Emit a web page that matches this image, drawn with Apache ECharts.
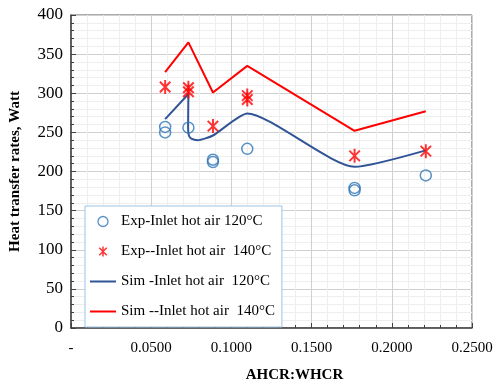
<!DOCTYPE html>
<html>
<head>
<meta charset="utf-8">
<script src="https://cdn.jsdelivr.net/npm/echarts@6/dist/echarts.min.js"></script>
<style>
  html, body { margin: 0; padding: 0; background: #fff; }
  #chart { width: 497px; height: 388px; }
</style>
</head>
<body>
<div id="chart"></div>
<script>
// values
var seriesNames = ['Exp-Inlet hot air 120°C', 'Exp--Inlet hot air  140°C', 'Sim -Inlet hot air  120°C', 'Sim --Inlet hot air  140°C']
var exp120X = [0.0587, 0.0587, 0.0732, 0.0885, 0.0885, 0.1099, 0.1768, 0.1768, 0.2212]
var exp120Y = [257, 250, 256, 215, 212, 229, 179, 176, 195]
var exp140X = [0.0587, 0.0732, 0.0732, 0.0885, 0.1099, 0.1099, 0.1768, 0.2212]
var exp140Y = [308, 307, 302, 258, 297, 292, 220, 226]
var sim120X = [0.0587, 0.0732, 0.0730, 0.0735, 0.0750, 0.0790, 0.0885, 0.1099, 0.1768, 0.2212]
var sim120Y = [267, 299, 256, 246, 242, 240, 246, 274, 206, 227]
var sim140X = [0.0587, 0.0732, 0.0885, 0.1099, 0.1768, 0.2212]
var sim140Y = [327, 365, 301, 335, 252, 277]

function pairs(xs, ys) {
  return xs.map(function (x, i) { return [x, ys[i]] })
}

var font = 'Liberation Serif, Times New Roman, serif'
// excel style star marker: an X with a vertical stroke
var star = 'path://M0,-1L0,1M-0.75,-0.75L0.75,0.75M-0.75,0.75L0.75,-0.75'
var bar = 'path://M0,0L26,0L26,2L0,2Z'

var myChart = echarts.init(document.getElementById('chart'))
myChart.setOption({
  animation: false,
  textStyle: { fontFamily: font },
  grid: {
    left: 70,
    right: 25,
    top: 15,
    bottom: 56,
    show: true,
    borderColor: '#595959',
    borderWidth: 1
  },
  legend: {
    orient: 'vertical',
    left: 85,
    top: 206,
    padding: [8, 7, 8, 5],
    itemGap: 15,
    itemWidth: 26,
    itemHeight: 10,
    backgroundColor: '#fff',
    borderColor: '#9dc3e6',
    borderWidth: 1,
    textStyle: { fontFamily: font, fontSize: 15, color: '#000' },
    data: [
      { name: seriesNames[0], icon: 'circle', itemStyle: { color: 'none', borderColor: '#2e75b6', borderWidth: 1.3 } },
      { name: seriesNames[1], icon: star, itemStyle: { color: 'none', borderColor: '#ff0000', borderWidth: 1.5 } },
      { name: seriesNames[2], icon: bar, itemStyle: { color: '#305496', borderWidth: 0 } },
      { name: seriesNames[3], icon: bar, itemStyle: { color: '#ff0000', borderWidth: 0 } }
    ]
  },
  xAxis: {
    type: 'value',
    min: 0,
    max: 0.25,
    interval: 0.05,
    name: 'AHCR:WHCR',
    nameLocation: 'middle',
    nameGap: 40,
    nameTextStyle: { fontFamily: font, fontSize: 15, fontWeight: 'bold', color: '#000', padding: [0, 0, 0, 46] },
    axisLine: { show: true, lineStyle: { color: '#404040', width: 1.5 } },
    axisTick: { show: true, inside: true, length: 5, lineStyle: { color: '#404040' } },
    minorTick: { show: true, splitNumber: 5, length: 3, lineStyle: { color: '#404040' } },
    axisLabel: {
      margin: 13,
      fontSize: 15,
      color: '#000',
      fontFamily: font,
      formatter: function (v) { return v === 0 ? '-' : v.toFixed(4) }
    },
    splitLine: { show: true, lineStyle: { color: '#d0d0d0' } },
    minorSplitLine: { show: true, lineStyle: { color: '#eeeeee' } }
  },
  yAxis: {
    type: 'value',
    min: 0,
    max: 400,
    interval: 50,
    name: 'Heat transfer rates, Watt',
    nameLocation: 'middle',
    nameGap: 48,
    nameTextStyle: { fontFamily: font, fontSize: 15, fontWeight: 'bold', color: '#000' },
    axisLine: { show: true, lineStyle: { color: '#404040', width: 1.5 } },
    axisTick: { show: true, inside: true, length: 5, lineStyle: { color: '#404040' } },
    minorTick: { show: true, splitNumber: 5, length: 3, lineStyle: { color: '#404040' } },
    axisLabel: { margin: 8, fontSize: 17, color: '#000', fontFamily: font },
    splitLine: { show: true, lineStyle: { color: '#d0d0d0' } },
    minorSplitLine: { show: true, lineStyle: { color: '#eeeeee' } }
  },
  series: [
    {
      name: seriesNames[0],
      type: 'scatter',
      symbol: 'circle',
      symbolSize: 11,
      itemStyle: { color: 'none', borderColor: '#2e75b6', borderWidth: 1.5 },
      data: pairs(exp120X, exp120Y),
      z: 3
    },
    {
      name: seriesNames[1],
      type: 'scatter',
      symbol: star,
      symbolKeepAspect: true,
      symbolSize: 14,
      itemStyle: { color: 'none', borderColor: '#ff0000', borderWidth: 2 },
      data: pairs(exp140X, exp140Y),
      z: 4
    },
    {
      name: seriesNames[2],
      type: 'line',
      symbol: 'none',
      smooth: 0.2,
      lineStyle: { color: '#305496', width: 2 },
      itemStyle: { color: '#305496' },
      data: pairs(sim120X, sim120Y),
      z: 2
    },
    {
      name: seriesNames[3],
      type: 'line',
      symbol: 'none',
      lineStyle: { color: '#ff0000', width: 2 },
      itemStyle: { color: '#ff0000' },
      data: pairs(sim140X, sim140Y),
      z: 2
    }
  ]
})
</script>
</body>
</html>
